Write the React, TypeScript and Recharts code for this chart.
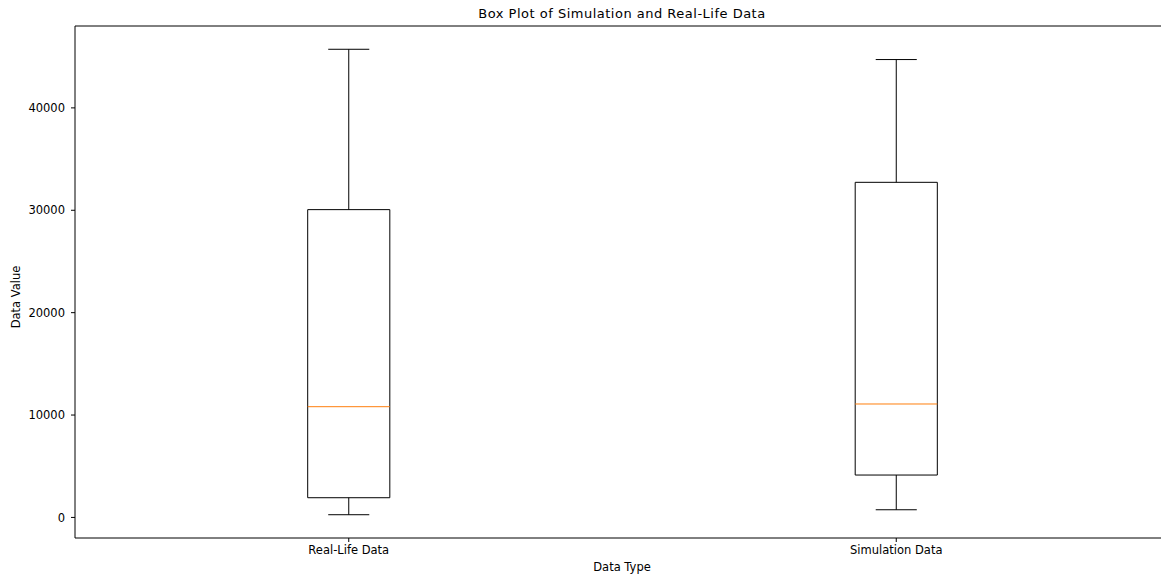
import React from "react";
import {
  ComposedChart,
  XAxis,
  YAxis,
  Scatter,
  ReferenceArea,
  ReferenceLine,
} from "recharts";

const categories = ["Real-Life Data", "Simulation Data"];
const positions = [1, 2];
const whiskerLow = [264, 750];
const lowerQuartile = [1925, 4140];
const medians = [10816, 11080];
const upperQuartile = [30063, 32730];
const whiskerHigh = [45725, 44720];
const yTicks = [0, 10000, 20000, 30000, 40000];
const yDomain = [-2009, 47998];

const BOX_HALF = 0.075;
const CAP_HALF = 0.0375;
const FONT = "'DejaVu Sans', sans-serif";
const tickStyle = { fontSize: 11.5, fill: "#000", fontFamily: FONT };

const points = positions.map((p, i) => ({ x: p, y: medians[i] }));

export default function App() {
  return (
    <div
      style={{
        position: "absolute",
        left: 0,
        top: 0,
        width: 1161,
        height: 575,
        overflow: "hidden",
        background: "#fff",
        fontFamily: FONT,
      }}
    >
      <div
        style={{
          position: "absolute",
          left: 0,
          width: 1244,
          top: 6,
          textAlign: "center",
          fontSize: 13,
          letterSpacing: 0.5,
          color: "#000",
        }}
      >
        Box Plot of Simulation and Real-Life Data
      </div>
      <div
        style={{
          position: "absolute",
          left: 0,
          width: 1244,
          top: 560,
          textAlign: "center",
          fontSize: 11.5,
          color: "#000",
        }}
      >
        Data Type
      </div>
      <div
        style={{
          position: "absolute",
          left: 16,
          top: 297,
          transform: "translate(-50%, -50%) rotate(-90deg)",
          fontSize: 11.5,
          color: "#000",
          whiteSpace: "nowrap",
        }}
      >
        Data Value
      </div>
      <ComposedChart
        width={1180}
        height={575}
        margin={{ top: 26, right: 10, bottom: 17, left: 15 }}
        style={{ position: "absolute", left: 0, top: 0 }}
      >
        <XAxis
          dataKey="x"
          type="number"
          domain={[0.5, 2.5]}
          ticks={positions}
          tickFormatter={(v: number) => categories[positions.indexOf(v)]}
          allowDataOverflow
          height={20}
          tick={tickStyle}
          tickSize={4}
          tickMargin={4}
          axisLine={{ stroke: "#000" }}
          tickLine={{ stroke: "#000" }}
        />
        <YAxis
          dataKey="y"
          type="number"
          domain={yDomain}
          ticks={yTicks}
          allowDataOverflow
          width={60}
          tick={tickStyle}
          tickSize={4}
          tickMargin={6}
          axisLine={{ stroke: "#000" }}
          tickLine={{ stroke: "#000" }}
        />
        {/* top spine */}
        <ReferenceLine y={yDomain[1]} stroke="#000" ifOverflow="visible" />
        {positions.map((p, i) => (
          <ReferenceArea
            key={`box-${i}`}
            x1={p - BOX_HALF}
            x2={p + BOX_HALF}
            y1={lowerQuartile[i]}
            y2={upperQuartile[i]}
            fill="none"
            fillOpacity={0}
            stroke="#000"
            strokeWidth={1}
          />
        ))}
        {positions.map((p, i) => (
          <ReferenceLine
            key={`wl-${i}`}
            segment={[
              { x: p, y: whiskerLow[i] },
              { x: p, y: lowerQuartile[i] },
            ]}
            stroke="#000"
          />
        ))}
        {positions.map((p, i) => (
          <ReferenceLine
            key={`wh-${i}`}
            segment={[
              { x: p, y: upperQuartile[i] },
              { x: p, y: whiskerHigh[i] },
            ]}
            stroke="#000"
          />
        ))}
        {positions.map((p, i) => (
          <ReferenceLine
            key={`cl-${i}`}
            segment={[
              { x: p - CAP_HALF, y: whiskerLow[i] },
              { x: p + CAP_HALF, y: whiskerLow[i] },
            ]}
            stroke="#000"
          />
        ))}
        {positions.map((p, i) => (
          <ReferenceLine
            key={`ch-${i}`}
            segment={[
              { x: p - CAP_HALF, y: whiskerHigh[i] },
              { x: p + CAP_HALF, y: whiskerHigh[i] },
            ]}
            stroke="#000"
          />
        ))}
        {positions.map((p, i) => (
          <ReferenceLine
            key={`md-${i}`}
            segment={[
              { x: p - BOX_HALF, y: medians[i] },
              { x: p + BOX_HALF, y: medians[i] },
            ]}
            stroke="#ff7f0e"
          />
        ))}
        <Scatter
          data={points}
          dataKey="y"
          isAnimationActive={false}
          shape={() => <g />}
        />
      </ComposedChart>
    </div>
  );
}
